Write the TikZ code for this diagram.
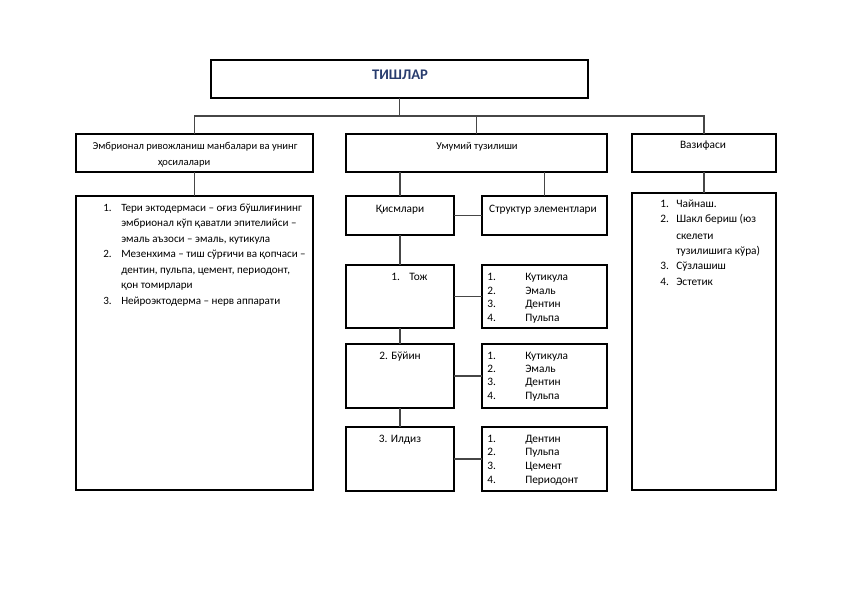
\documentclass[tikz,border=0pt]{standalone}
\usepackage{fontspec}
\setmainfont{Carlito}
\definecolor{titleblue}{RGB}{40,60,110}
\definecolor{linegray}{RGB}{70,70,70}
\tikzset{
  box/.style={draw=black, line width=1.5pt, inner sep=0pt, outer sep=0pt, anchor=north west},
  link/.style={draw=linegray, line width=0.8pt},
  txt/.style={inner sep=0pt, font=\fontsize{8.5}{10}\selectfont},
  num/.style={txt, anchor=mid west},
  itm/.style={txt, anchor=mid west},
  ctr/.style={txt, anchor=mid},
  small/.style={font=\fontsize{7.9}{9.5}\selectfont},
  mid8/.style={font=\fontsize{8.3}{10}\selectfont},
}
\newcommand{\mkbox}[5]{\node[box, minimum width=(#4-#2)*0.75pt, minimum height=(#5-#3)*0.75pt] (#1) at (#2,#3) {};}
\begin{document}
\begin{tikzpicture}[x=0.75pt, y=-0.75pt]
\useasboundingbox (0,0) rectangle (842,596);
% boxes
\mkbox{title}{211}{60}{588}{98}
\mkbox{lhead}{76}{134}{313}{172}
\mkbox{mhead}{346}{134}{607}{172}
\mkbox{rhead}{632}{134}{776}{172}
\mkbox{lbody}{76}{196}{313}{490}
\mkbox{qism}{346}{196}{454}{235}
\mkbox{struct}{482}{196}{607}{235}
\mkbox{toj}{346}{265}{454}{328}
\mkbox{tojel}{482}{265}{607}{328}
\mkbox{buyin}{346}{344}{454}{408}
\mkbox{buyinel}{482}{344}{607}{408}
\mkbox{ildiz}{346}{427}{454}{491}
\mkbox{ildizel}{482}{427}{607}{491}
\mkbox{rbody}{632}{193}{776}{490}
% connectors
\coordinate (bus) at (400,116);
\draw[link] (title.south) -- (title.south |- bus);
\draw[link] (lhead.north) -- (lhead.north |- bus) -- (rhead.north |- bus) -- (rhead.north);
\draw[link] (mhead.north) -- (mhead.north |- bus);
\draw[link] (lhead.south) -- (lbody.north);
\draw[link] (rhead.south) -- (rbody.north);
\draw[link] (qism.north) -- (qism.north |- mhead.south);
\draw[link] (struct.north) -- (struct.north |- mhead.south);
\draw[link] (qism.east) -- (struct.west);
\draw[link] (qism.south) -- (toj.north);
\draw[link] (toj.south) -- (buyin.north);
\draw[link] (buyin.south) -- (ildiz.north);
\draw[link] (toj.east) -- (tojel.west);
\draw[link] (buyin.east) -- (buyinel.west);
\draw[link] (ildiz.east) -- (ildizel.west);
% title
\node[inner sep=0pt, anchor=mid, text=titleblue, font=\fontsize{11}{13}\selectfont\bfseries] (ttl) at (400,76) {ТИШЛАР};
% headers
\node[ctr, small] (lh1) at (195,146) {Эмбрионал ривожланиш манбалари ва унинг};
\node[ctr, small] (lh2) at (184,162) {ҳосилалари};
\node[ctr, small] (mh) at (477,146) {Умумий тузилиши};
\node[ctr] (rh) at (703,145) {Вазифаси};
% left body list
\node[num, mid8] (ln1) at (103,208) {1.};
\node[itm, mid8] (la1) at (121,208) {Тери эктодермаси – оғиз бўшлиғининг};
\node[itm, mid8] (la2) at (121,223.5) {эмбрионал кўп қаватли эпителийси –};
\node[itm, mid8] (la3) at (121,239) {эмаль аъзоси – эмаль, кутикула};
\node[num, mid8] (ln2) at (103,254.5) {2.};
\node[itm, mid8] (lb1) at (121,254.5) {Мезенхима – тиш сўрғичи ва қопчаси –};
\node[itm, mid8] (lb2) at (121,270) {дентин, пульпа, цемент, периодонт,};
\node[itm, mid8] (lb3) at (121,285.5) {қон томирлари};
\node[num, mid8] (ln3) at (103,301) {3.};
\node[itm, mid8] (lc1) at (121,301) {Нейроэктодерма – нерв аппарати};
% middle
\node[ctr] (qt) at (400,209) {Қисмлари};
\node[ctr] (st) at (543,209) {Структур элементлари};
\node[num] (tn) at (391,277) {1.};
\node[itm] (tt) at (409,277) {Тож};
\node[ctr] (bt) at (400,356) {2. Бўйин};
\node[ctr] (it) at (400,439) {3. Илдиз};
% element lists
\node[num] (e1n1) at (487,277) {1.};  \node[itm] (e1t1) at (525,277) {Кутикула};
\node[num] (e1n2) at (487,291) {2.};  \node[itm] (e1t2) at (525,291) {Эмаль};
\node[num] (e1n3) at (487,304) {3.};  \node[itm] (e1t3) at (525,304) {Дентин};
\node[num] (e1n4) at (487,318) {4.};  \node[itm] (e1t4) at (525,318) {Пульпа};
\node[num] (e2n1) at (487,356) {1.};  \node[itm] (e2t1) at (525,356) {Кутикула};
\node[num] (e2n2) at (487,369) {2.};  \node[itm] (e2t2) at (525,369) {Эмаль};
\node[num] (e2n3) at (487,382) {3.};  \node[itm] (e2t3) at (525,382) {Дентин};
\node[num] (e2n4) at (487,396) {4.};  \node[itm] (e2t4) at (525,396) {Пульпа};
\node[num] (e3n1) at (487,439) {1.};  \node[itm] (e3t1) at (525,439) {Дентин};
\node[num] (e3n2) at (487,452) {2.};  \node[itm] (e3t2) at (525,452) {Пульпа};
\node[num] (e3n3) at (487,466) {3.};  \node[itm] (e3t3) at (525,466) {Цемент};
\node[num] (e3n4) at (487,480) {4.};  \node[itm] (e3t4) at (525,480) {Периодонт};
% right list
\node[num] (rn1) at (660,204) {1.};  \node[itm] (rt1) at (676,204) {Чайнаш.};
\node[num] (rn2) at (660,219) {2.};  \node[itm] (rt2) at (676,219) {Шакл бериш (юз};
\node[itm] (rt2b) at (676,236) {скелети};
\node[itm] (rt2c) at (676,251) {тузилишига кўра)};
\node[num] (rn3) at (660,266) {3.};  \node[itm] (rt3) at (676,266) {Сўзлашиш};
\node[num] (rn4) at (660,282) {4.};  \node[itm] (rt4) at (676,282) {Эстетик};
\end{tikzpicture}
\end{document}
